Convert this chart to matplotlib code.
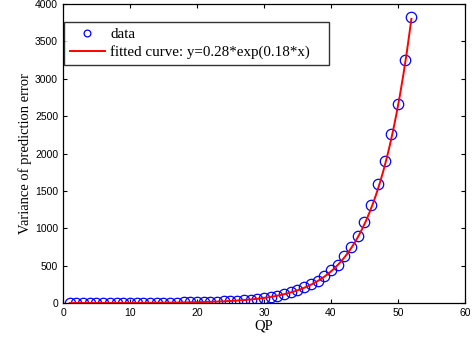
import numpy as np
import matplotlib
matplotlib.use("Agg")
import matplotlib.pyplot as plt

qp = list(range(1, 53))
variance = [0.3, 0.4, 0.5, 0.6, 0.7, 0.8, 1.0, 1.2, 1.5, 1.7, 2.1, 2.5, 3.0, 3.6, 4.3, 5.2, 6.2, 7.5, 9.0, 10.8,
            13, 15.5, 18.5, 22, 27, 33, 39, 46, 55, 63, 76, 94, 116, 143, 174, 210, 250, 290, 355, 446,
            513, 627, 751, 890, 1090, 1311, 1590, 1895, 2261, 2662, 3251, 3826]
fit_a = 0.28
fit_b = 0.183

plt.rcParams['font.family'] = ['Liberation Sans', 'DejaVu Sans']
fig = plt.figure(figsize=(4.73, 3.41), dpi=100)
ax = fig.add_axes([0.1332, 0.1114, 0.8498, 0.8768])

xf = np.linspace(min(qp), max(qp), 300)
ax.plot(qp, variance, 'o', mfc='none', mec='blue', ms=7.5, mew=0.9, label='data', zorder=2)
ax.plot(xf, fit_a * np.exp(fit_b * xf), '-', color='red', lw=1.4,
        label='fitted curve: y=0.28*exp(0.18*x)', zorder=3)

ax.set_xlim(0, 60)
ax.set_ylim(0, 4000)
ax.set_xticks(range(0, 61, 10))
ax.set_yticks(range(0, 4001, 500))
ax.tick_params(direction='in', top=True, right=True, labelsize=7.5, length=3, width=0.8)
for s in ax.spines.values():
    s.set_linewidth(0.9)
ax.set_xlabel('QP', family='Liberation Serif', fontsize=10.5, labelpad=1)
ax.set_ylabel('Variance of prediction error', family='Liberation Serif', fontsize=10.5, labelpad=2)

leg = ax.legend(loc='upper left', bbox_to_anchor=(0.0025, 0.0, 0.66, 0.94), mode='expand',
                prop={'family': 'Liberation Serif', 'size': 10.8},
                frameon=True, fancybox=False, edgecolor='black', borderpad=0.4, handlelength=2.33,
                labelspacing=0.25, handletextpad=0.35, borderaxespad=0, markerscale=0.65)
leg.get_frame().set_linewidth(1.0)

fig.savefig('out.png', dpi=100)
